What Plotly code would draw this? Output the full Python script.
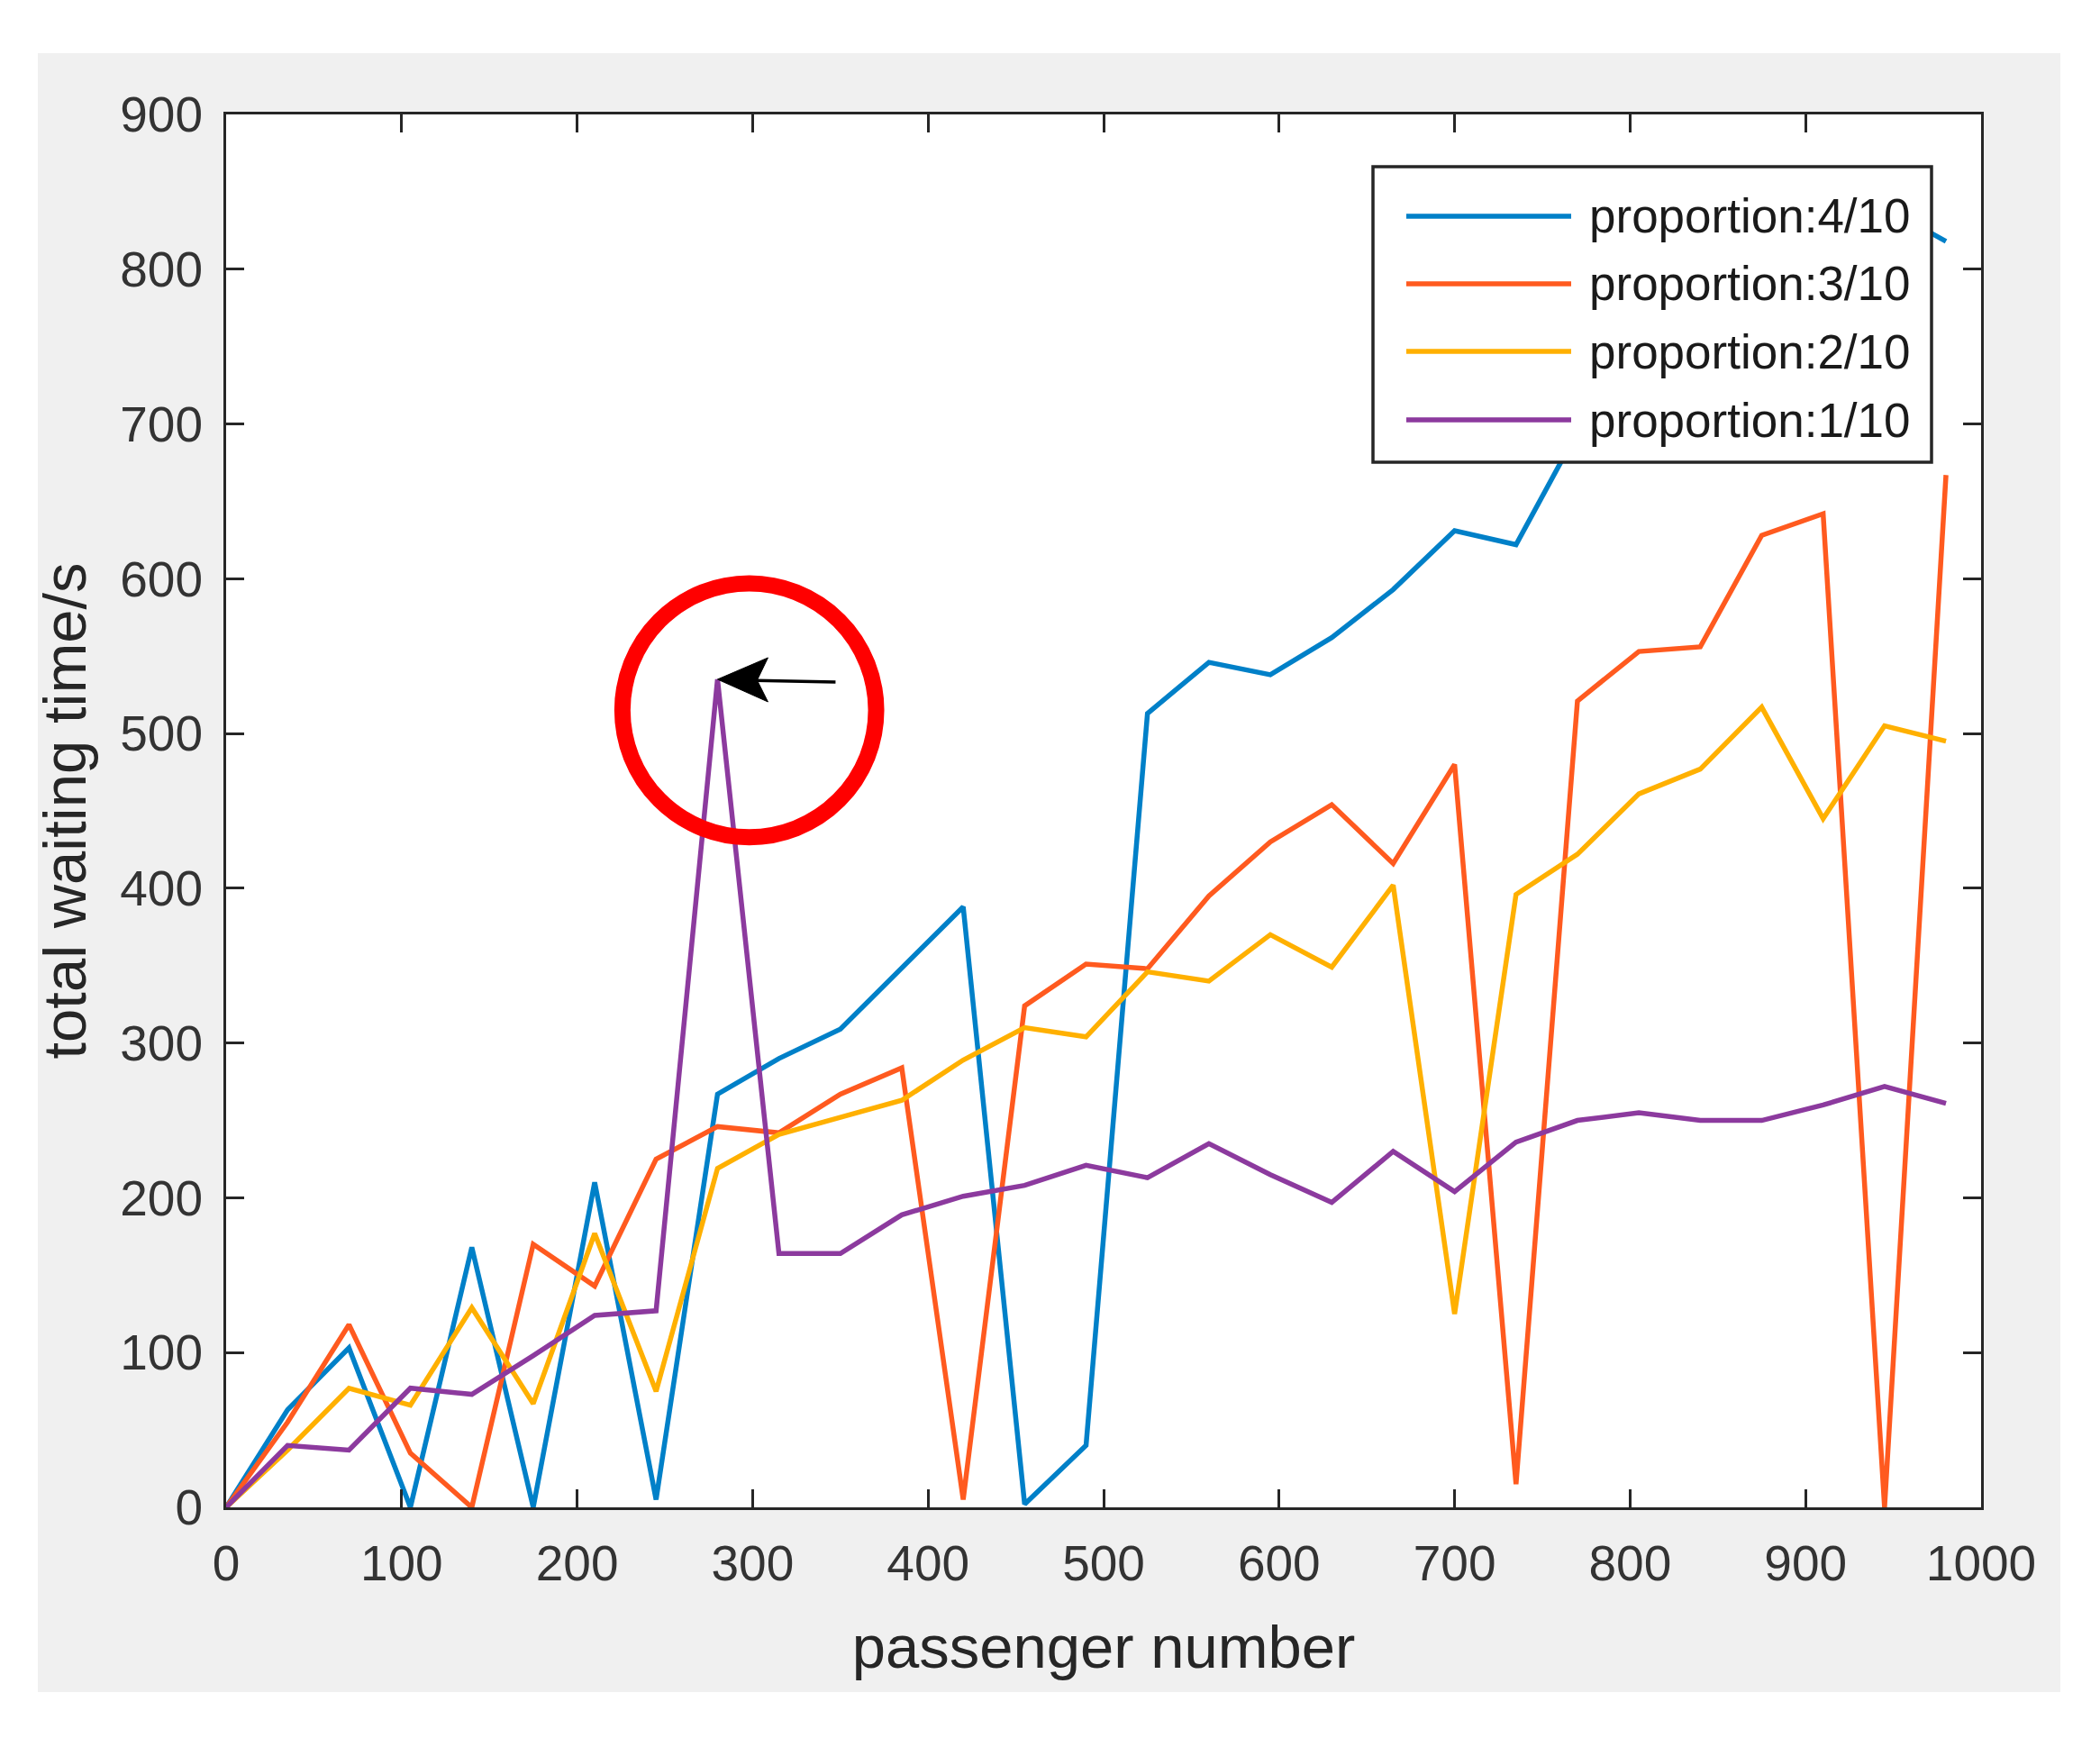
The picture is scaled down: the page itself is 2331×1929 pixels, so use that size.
import plotly.graph_objects as go

# passenger number sampled every 35 passengers
passengers = [0, 35, 70, 105, 140, 175, 210, 245, 280, 315, 350, 385, 420, 455, 490,
              525, 560, 595, 630, 665, 700, 735, 770, 805, 840, 875, 910, 945, 980]

# total waiting time (s) for each proportion
prop_4 = [0, 63, 103, 0, 168, 0, 210, 5, 267, 290, 309, 348, 388, 2, 40,
          513, 546, 538, 562, 593, 631, 622, 695, 740, 770, 800, 820, 840, 818]
prop_3 = [0, 55, 118, 35, 0, 170, 143, 225, 246, 242, 267, 284, 5, 324, 351,
          348, 395, 430, 454, 416, 480, 15, 521, 553, 556, 628, 642, 0, 667]
prop_2 = [0, 37, 77, 66, 129, 67, 177, 75, 219, 241, 252, 263, 289, 310, 304,
          346, 340, 370, 349, 402, 125, 396, 422, 461, 477, 517, 445, 505, 495]
prop_1 = [0, 40, 37, 77, 73, 98, 124, 127, 535, 164, 164, 189, 201, 208, 221,
          213, 235, 215, 197, 230, 204, 236, 250, 255, 250, 250, 260, 272, 261]

series_names = ["proportion:4/10", "proportion:3/10", "proportion:2/10", "proportion:1/10"]
series_data = [prop_4, prop_3, prop_2, prop_1]
series_colors = ["#0080C8", "#FF5A1F", "#FFB000", "#8C3A9E"]

x_ticks = [0, 100, 200, 300, 400, 500, 600, 700, 800, 900, 1000]
y_ticks = [0, 100, 200, 300, 400, 500, 600, 700, 800, 900]

FONT = "Liberation Sans, Arial, Helvetica, sans-serif"
AXIS_COLOR = "#262626"
LINE_W = 5.5

# plot area in page pixels (used to place the MATLAB-style legend)
PX_L, PX_R, PX_T, PX_B = 251, 2199, 127, 1673


def px_to_paper(px, py):
    return (px - PX_L) / (PX_R - PX_L), (PX_B - py) / (PX_B - PX_T)


fig = go.Figure()
for name, vals, col in zip(series_names, series_data, series_colors):
    fig.add_trace(go.Scatter(x=passengers, y=vals, mode="lines", name=name,
                             line=dict(color=col, width=LINE_W), showlegend=False))

shapes = []
# grey figure panel and white axes area
gx0, gy0 = px_to_paper(42, 1878)
gx1, gy1 = px_to_paper(2287, 59)
shapes.append(dict(type="rect", xref="paper", yref="paper", x0=gx0, x1=gx1, y0=gy0, y1=gy1,
                   fillcolor="#F0F0F0", line=dict(width=0), layer="below"))
shapes.append(dict(type="rect", xref="paper", yref="paper", x0=0, x1=1, y0=0, y1=1,
                   fillcolor="white", line=dict(width=0), layer="below"))

# legend box with long sample lines
lx0, ly0 = px_to_paper(1524, 513)
lx1, ly1 = px_to_paper(2144, 185)
shapes.append(dict(type="rect", xref="paper", yref="paper", x0=lx0, x1=lx1, y0=ly0, y1=ly1,
                   fillcolor="white", line=dict(color=AXIS_COLOR, width=3.5), layer="above"))
row_px = [240, 315, 390, 466]
annotations = []
for name, col, ry in zip(series_names, series_colors, row_px):
    sx0, yp = px_to_paper(1561, ry)
    sx1, _ = px_to_paper(1744, ry)
    tx, _ = px_to_paper(1762, ry)
    shapes.append(dict(type="line", xref="paper", yref="paper", x0=sx0, x1=sx1,
                       y0=yp, y1=yp, line=dict(color=col, width=LINE_W), layer="above"))
    annotations.append(dict(xref="paper", yref="paper", x=tx, y=yp, text=name,
                            showarrow=False, xanchor="left", yanchor="middle",
                            font=dict(family=FONT, size=53, color="#1A1A1A")))

# red circle highlighting the peak
shapes.append(dict(type="circle", xref="x", yref="y", x0=225.8, x1=370.4, y0=433, y1=597,
                   line=dict(color="#FF0000", width=18), layer="above"))

# arrow pointing at the peak (pixel-sized paths anchored at the peak)
peak_x, peak_y = passengers[8], prop_1[8]
shapes.append(dict(type="path", xref="x", yref="y", xsizemode="pixel", ysizemode="pixel",
                   xanchor=peak_x, yanchor=peak_y,
                   path="M 30,-1 L 131,-3", line=dict(color="black", width=3.5), layer="above"))
shapes.append(dict(type="path", xref="x", yref="y", xsizemode="pixel", ysizemode="pixel",
                   xanchor=peak_x, yanchor=peak_y,
                   path="M 0,0 L 56,24 L 44,-1 L 56,-25 Z", fillcolor="black",
                   line=dict(color="black", width=1), layer="above"))

axis_common = dict(showline=True, linecolor=AXIS_COLOR, linewidth=3, mirror="ticks",
                   ticks="inside", ticklen=20, tickwidth=3, tickcolor=AXIS_COLOR,
                   showgrid=False, zeroline=False,
                   tickfont=dict(family=FONT, size=55, color="#333333"))

fig.update_layout(
    width=2331, height=1929,
    paper_bgcolor="white", plot_bgcolor="white",
    # page body has an 8px offset, margins compensate so the axes land on the reference pixels
    margin=dict(l=PX_L - 8, r=2331 + 8 - PX_R, t=PX_T - 8, b=1929 + 8 - PX_B),
    xaxis=dict(range=[0, 1000], tickvals=x_ticks, ticklabelstandoff=12,
               title=dict(text="passenger number", standoff=40,
                          font=dict(family=FONT, size=67, color="#262626")),
               **axis_common),
    yaxis=dict(range=[0, 900], tickvals=y_ticks, ticklabelstandoff=12,
               title=dict(text="total waiting time/s", standoff=16,
                          font=dict(family=FONT, size=67, color="#262626")),
               **axis_common),
    shapes=shapes,
    annotations=annotations,
    showlegend=False,
)

fig.write_html("out.html")
